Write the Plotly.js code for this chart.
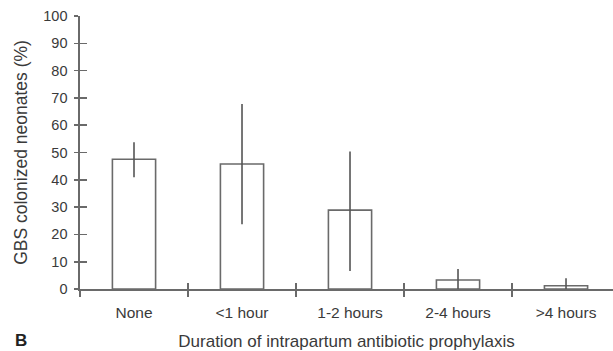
<!DOCTYPE html>
<html>
<head>
<meta charset="utf-8">
<script src="https://cdn.plot.ly/plotly-3.0.1.min.js"></script>
<style>html,body{margin:0;padding:0;background:#fff;}#chart{width:613px;height:351px;}</style>
</head>
<body>
<div id="chart"></div>
<script>
const categories = ["None", "<1 hour", "1-2 hours", "2-4 hours", ">4 hours"];
const colonizedPct = [47.5, 45.8, 28.9, 3.3, 1.2];
const errorPlus = [6.3, 22.0, 21.5, 4.0, 2.7];
const errorMinus = [6.6, 22.1, 22.3, 3.3, 1.2];
const yTickVals = [0, 10, 20, 30, 40, 50, 60, 70, 80, 90, 100];

const lineCol = "#6a6a6a";
const textCol = "#3a3a3a";
const fontFam = "Liberation Sans, Arial, sans-serif";

const traces = [
  {
    type: "bar",
    x: categories,
    y: colonizedPct,
    width: 0.4,
    marker: {color: "#ffffff", line: {color: lineCol, width: 1.6}},
    error_y: {type: "data", symmetric: false, array: errorPlus, arrayminus: errorMinus,
              color: "#555", thickness: 1.6, width: 0},
    hoverinfo: "x+y"
  },
  {
    type: "scatter",
    mode: "markers",
    x: categories,
    y: colonizedPct,
    xaxis: "x2",
    yaxis: "y2",
    marker: {opacity: 0},
    hoverinfo: "skip",
    showlegend: false
  }
];

const layout = {
  width: 613,
  height: 351,
  margin: {l: 80, r: 0, t: 16, b: 62},
  paper_bgcolor: "#fff",
  plot_bgcolor: "#fff",
  showlegend: false,
  font: {family: fontFam, color: textCol},
  xaxis: {
    type: "category",
    categoryarray: categories,
    range: [-0.5, 4.435],
    showline: true, linecolor: lineCol, linewidth: 1.6,
    ticks: "outside", ticklen: 6, tickwidth: 1.6, tickcolor: lineCol,
    tickson: "boundaries",
    showgrid: false, zeroline: false,
    tickfont: {size: 15.5, color: textCol},
    ticklabelstandoff: 9,
    title: {text: "Duration of intrapartum antibiotic prophylaxis", font: {size: 17, color: textCol}, standoff: 16}
  },
  xaxis2: {
    type: "category",
    categoryarray: categories,
    range: [-0.5, 4.435],
    overlaying: "x",
    anchor: "y",
    side: "bottom",
    showline: false,
    ticks: "inside", ticklen: 6, tickwidth: 1.6, tickcolor: lineCol,
    tickson: "boundaries",
    showgrid: false, zeroline: false,
    showticklabels: false
  },
  yaxis: {
    range: [0, 100],
    tickvals: yTickVals,
    showline: true, linecolor: lineCol, linewidth: 1.6,
    ticks: "outside", ticklen: 4, tickwidth: 1.6, tickcolor: lineCol,
    showgrid: false, zeroline: false,
    tickfont: {size: 14.5, color: textCol},
    ticklabelstandoff: 4,
    title: {text: "GBS colonized neonates (%)", font: {size: 17.5, color: textCol}, standoff: 11}
  },
  yaxis2: {
    range: [0, 100],
    tickvals: yTickVals,
    overlaying: "y",
    anchor: "x",
    side: "left",
    showline: false,
    ticks: "inside", ticklen: 7, tickwidth: 1.6, tickcolor: lineCol,
    showgrid: false, zeroline: false,
    showticklabels: false
  },
  annotations: [
    {text: "<b>B</b>", xref: "paper", yref: "paper", x: -0.111, y: -0.19,
     xanchor: "center", yanchor: "middle", showarrow: false,
     font: {size: 17, color: "#222", family: fontFam}}
  ]
};

Plotly.newPlot("chart", traces, layout, {displayModeBar: false, staticPlot: true});
</script>
</body>
</html>
